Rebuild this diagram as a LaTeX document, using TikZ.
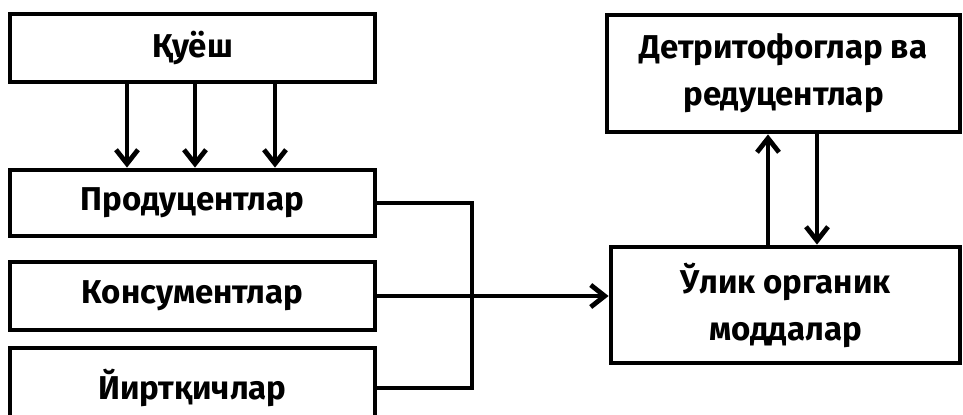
\documentclass[tikz,border=0pt]{standalone}
\usepackage{fontspec}
\setmainfont{Fira Sans}
\usetikzlibrary{arrows.meta}

\begin{document}
\begin{tikzpicture}[x=0.5pt,y=-0.5pt,
  box/.style={draw,line width=2.4pt,inner sep=0pt,align=center,
    font=\bfseries\fontsize{16.5}{23.5}\selectfont},
  arr/.style={line width=2.4pt,-{Straight Barb[length=7pt,width=11pt]}}]
\useasboundingbox (0,0) rectangle (963,414);
\node[box,minimum width=182.5pt,minimum height=34pt] (kuyosh) at (192.5,48) {Қуёш};
\node[box,minimum width=182.5pt,minimum height=33pt] (prod) at (192.5,203) {Продуцентлар};
\node[box,minimum width=182.5pt,minimum height=34pt] (kons) at (192.5,296) {Консументлар};
\node[box,minimum width=182.5pt,minimum height=40pt] (yirt) at (192.5,388) {Йиртқичлар};
\node[box,minimum width=176.5pt,minimum height=58.5pt] (detr) at (783.5,73.5) {Детритофоглар ва\\редуцентлар};
\node[box,minimum width=174.5pt,minimum height=58pt] (ulik) at (785.5,305) {Ўлик органик\\моддалар};
\coordinate (bus) at (472,296);
\foreach \dx in {-32.75,1.25,41.25}
  \draw[arr] ([xshift=\dx pt]kuyosh.south) -- ([xshift=\dx pt]prod.north);
\draw[line width=2.4pt] (prod.east) -| (bus) |- (yirt.east);
\draw[arr] (kons.east) -- (kons.east -| ulik.west);
\draw[arr] ([xshift=-8.75pt]ulik.north) -- ([xshift=-8.75pt]ulik.north |- detr.south);
\draw[arr] ([xshift=16.75pt]detr.south) -- ([xshift=16.75pt]detr.south |- ulik.north);
\end{tikzpicture}
\end{document}
